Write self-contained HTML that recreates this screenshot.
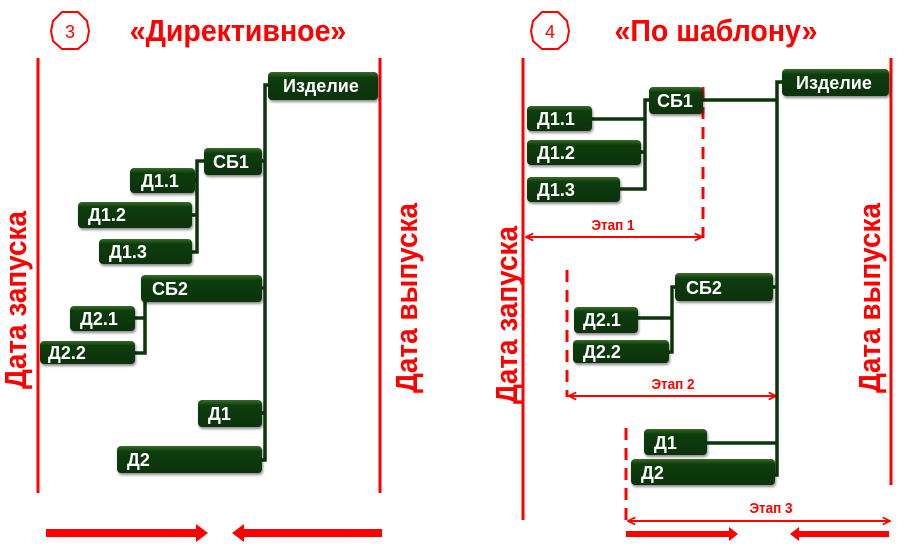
<!DOCTYPE html>
<html><head><meta charset="utf-8"><style>
body{margin:0;background:#fff;width:921px;height:546px;overflow:hidden}
svg text{font-family:"Liberation Sans","DejaVu Sans",sans-serif;font-weight:bold}
</style></head><body>
<svg width="921" height="546" viewBox="0 0 921 546" xmlns="http://www.w3.org/2000/svg">
<defs>
<linearGradient id="g" x1="0" y1="0" x2="0" y2="1">
<stop offset="0" stop-color="#3a6a2a"/><stop offset="0.2" stop-color="#0e3d0c"/><stop offset="1" stop-color="#0a3208"/>
</linearGradient>
<filter id="sh" x="-10%" y="-20%" width="130%" height="160%"><feDropShadow dx="1" dy="2" stdDeviation="1.2" flood-color="#000" flood-opacity="0.45"/></filter>
<marker id="ah" viewBox="0 0 10 10" refX="9" refY="5" markerWidth="9" markerHeight="9" orient="auto-start-reverse" markerUnits="userSpaceOnUse"><path d="M1,1 L9,5 L1,9" fill="none" stroke="#f00" stroke-width="2"/></marker>
</defs>
<g fill="none" stroke="#f00">
<line x1="38" y1="58" x2="38" y2="493" stroke-width="3"/>
<line x1="380" y1="58" x2="380" y2="493" stroke-width="3"/>
<line x1="523" y1="58" x2="523" y2="520" stroke-width="3"/>
<line x1="891" y1="58" x2="891" y2="485" stroke-width="3"/>
<line x1="703" y1="87" x2="703" y2="238" stroke-width="3" stroke-dasharray="12,8"/>
<line x1="567" y1="270" x2="567" y2="397" stroke-width="3" stroke-dasharray="12,8"/>
<line x1="626" y1="428" x2="626" y2="522" stroke-width="3" stroke-dasharray="12,8"/>
<line x1="526" y1="237" x2="702" y2="237" stroke-width="2" marker-start="url(#ah)" marker-end="url(#ah)"/>
<line x1="569" y1="396" x2="776" y2="396" stroke-width="2" marker-start="url(#ah)" marker-end="url(#ah)"/>
<line x1="628" y1="521" x2="890" y2="521" stroke-width="2" marker-start="url(#ah)" marker-end="url(#ah)"/>
</g>
<g fill="#f00">
<rect x="46" y="529" width="150" height="8"/><path d="M196,524 L208,533 L196,542Z"/>
<rect x="244" y="529" width="138" height="8"/><path d="M244,524 L232,533 L244,542Z"/>
<rect x="626" y="531" width="104" height="6"/><path d="M729,527 L738,534 L729,541Z"/>
<rect x="798" y="531" width="91" height="6"/><path d="M799,527 L790,534 L799,541Z"/>
</g>
<g fill="none" stroke="#0c360a" stroke-width="3.5">
<path d="M272,85 H265 V460 H262"/>
<path d="M204,161 H197 V252 H190"/>
<line x1="192" y1="215" x2="197" y2="215"/><line x1="195" y1="180" x2="197" y2="180"/>
<path d="M145,300 V353 H135"/><line x1="135" y1="318" x2="145" y2="318"/>
<line x1="262" y1="161" x2="265" y2="161"/><line x1="262" y1="288" x2="265" y2="288"/><line x1="262" y1="413" x2="265" y2="413"/>
<path d="M785,82 H777 V475 H773"/>
<line x1="703" y1="100" x2="777" y2="100"/>
<path d="M651,100 H645 V189 H620"/>
<line x1="592" y1="119" x2="645" y2="119"/><line x1="641" y1="152" x2="645" y2="152"/>
<path d="M677,287 H672 V352 H669"/>
<line x1="638" y1="318" x2="672" y2="318"/>
<line x1="773" y1="287" x2="777" y2="287"/>
<line x1="707" y1="443" x2="777" y2="443"/>
</g>
<g filter="url(#sh)" fill="url(#g)">
<rect x="268" y="72" width="110" height="28" rx="4"/>
<rect x="204" y="148" width="58" height="27" rx="4"/>
<rect x="130" y="168" width="65" height="25" rx="4"/>
<rect x="78" y="202" width="114" height="26" rx="4"/>
<rect x="99" y="239" width="93" height="25" rx="4"/>
<rect x="141" y="275" width="121" height="27" rx="4"/>
<rect x="70" y="306" width="65" height="25" rx="4"/>
<rect x="40" y="341" width="95" height="23" rx="4"/>
<rect x="198" y="400" width="64" height="27" rx="4"/>
<rect x="117" y="446" width="145" height="27" rx="4"/>
<rect x="782" y="69" width="107" height="27" rx="4"/>
<rect x="649" y="87" width="54" height="27" rx="4"/>
<rect x="527" y="106" width="65" height="25" rx="4"/>
<rect x="527" y="140" width="114" height="25" rx="4"/>
<rect x="527" y="177" width="93" height="25" rx="4"/>
<rect x="675" y="273" width="98" height="28" rx="4"/>
<rect x="574" y="307" width="64" height="26" rx="4"/>
<rect x="573" y="340" width="96" height="23" rx="4"/>
<rect x="644" y="429" width="63" height="26" rx="4"/>
<rect x="631" y="459" width="144" height="26" rx="4"/>
</g>
<g fill="#fff" font-size="18">
<text x="283" y="92">Изделие</text>
<text x="213" y="168">СБ1</text>
<text x="141" y="187">Д1.1</text>
<text x="88" y="221">Д1.2</text>
<text x="109" y="258">Д1.3</text>
<text x="152" y="295">СБ2</text>
<text x="80" y="325">Д2.1</text>
<text x="48" y="359">Д2.2</text>
<text x="208" y="420">Д1</text>
<text x="127" y="466">Д2</text>
<text x="796" y="89">Изделие</text>
<text x="657" y="107">СБ1</text>
<text x="537" y="125">Д1.1</text>
<text x="537" y="159">Д1.2</text>
<text x="537" y="196">Д1.3</text>
<text x="686" y="294">СБ2</text>
<text x="583" y="326">Д2.1</text>
<text x="583" y="358">Д2.2</text>
<text x="654" y="449">Д1</text>
<text x="641" y="479">Д2</text>
</g>
<g fill="#f00">
<text transform="translate(613,230) scale(0.9,1)" font-size="15" text-anchor="middle">Этап 1</text>
<text transform="translate(673,389) scale(0.9,1)" font-size="15" text-anchor="middle">Этап 2</text>
<text transform="translate(771,513) scale(0.9,1)" font-size="15" text-anchor="middle">Этап 3</text>
<text transform="translate(26,300) rotate(-90) scale(0.9,1)" font-size="31" text-anchor="middle">Дата запуска</text>
<text transform="translate(417,298) rotate(-90) scale(0.9,1)" font-size="31" text-anchor="middle">Дата выпуска</text>
<text transform="translate(517,315) rotate(-90) scale(0.9,1)" font-size="31" text-anchor="middle">Дата запуска</text>
<text transform="translate(880,298) rotate(-90) scale(0.9,1)" font-size="31" text-anchor="middle">Дата выпуска</text>
<text transform="translate(238,41) scale(0.92,1)" font-size="31" text-anchor="middle">«Директивное»</text>
<text transform="translate(716,41) scale(0.92,1)" font-size="31" text-anchor="middle">«По шаблону»</text>
</g>
<g fill="none" stroke="#f00" stroke-width="2">
<path d="M62,12 L78,12 L87,21 L89,31 L87,41 L78,49 L62,49 L53,41 L51,31 L53,21Z"/>
<path d="M542,12 L558,12 L567,21 L569,31 L567,41 L558,49 L542,49 L533,41 L531,31 L533,21Z"/>
</g>
<text x="70" y="38" fill="#f00" font-size="18" text-anchor="middle" style="font-weight:normal">3</text>
<text x="550" y="38" fill="#f00" font-size="18" text-anchor="middle" style="font-weight:normal">4</text>
</svg>
</body></html>
